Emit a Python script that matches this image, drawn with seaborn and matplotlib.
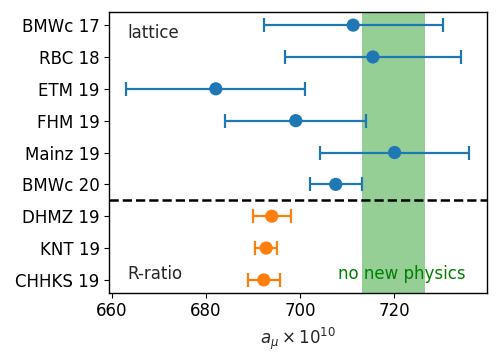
import matplotlib
matplotlib.use("Agg")
import matplotlib.pyplot as plt
import pandas as pd
import seaborn as sns

# values
labels = ["BMWc 17", "RBC 18", "ETM 19", "FHM 19", "Mainz 19", "BMWc 20",
          "DHMZ 19", "KNT 19", "CHHKS 19"]
values = [711.3, 715.5, 682.1, 699.1, 720.1, 707.6, 694.0, 692.8, 692.3]
errors = [19.0, 18.7, 19.0, 15.0, 15.9, 5.5, 4.0, 2.4, 3.4]
groups = ["lattice"] * 6 + ["R-ratio"] * 3
no_new_physics = (713.1, 726.6)

df = pd.DataFrame({"label": labels, "value": values, "err": errors, "group": groups})
df["pos"] = range(len(df))

sns.set_style("ticks")
plt.rcParams["font.family"] = ["DejaVu Sans"]

fig, ax = plt.subplots(figsize=(4.99, 3.64), dpi=100)
fig.subplots_adjust(left=0.219, right=0.975, top=0.966, bottom=0.196)

palette = {"lattice": "#1f77b4", "R-ratio": "#ff7f0e"}

ax.axvspan(*no_new_physics, color="#2ca02c", alpha=0.5, lw=0, zorder=0)

for grp, sub in df.groupby("group", sort=False):
    ax.errorbar(sub["value"], sub["pos"], xerr=sub["err"], fmt="none",
                ecolor=palette[grp], elinewidth=1.6, capsize=5, capthick=1.6,
                zorder=2)
sns.scatterplot(data=df, x="value", y="pos", hue="group", palette=palette,
                s=90, edgecolor="none", legend=False, ax=ax, zorder=3)

ax.axhline(5.5, color="black", ls="--", lw=1.8, zorder=4)

ax.set_yticks(df["pos"])
ax.set_yticklabels(df["label"])
ax.invert_yaxis()
ax.set_xticks([660, 680, 700, 720])
ax.set_xlabel(r"$a_\mu \times 10^{10}$", fontsize=12)
ax.set_ylabel("")

for side in ["top", "right", "left", "bottom"]:
    ax.spines[side].set_visible(True)
    ax.spines[side].set_linewidth(1.0)
    ax.spines[side].set_color("black")
ax.tick_params(colors="black", labelsize=12, length=3.5, width=0.8)

ax.text(0.048, 0.925, "lattice", transform=ax.transAxes, fontsize=12,
        va="center", ha="left")
ax.text(0.048, 0.068, "R-ratio", transform=ax.transAxes, fontsize=12,
        va="center", ha="left")
ax.text(0.945, 0.068, "no new physics", transform=ax.transAxes, fontsize=12,
        va="center", ha="right", color="green")

fig.savefig("out.png", dpi=100)
